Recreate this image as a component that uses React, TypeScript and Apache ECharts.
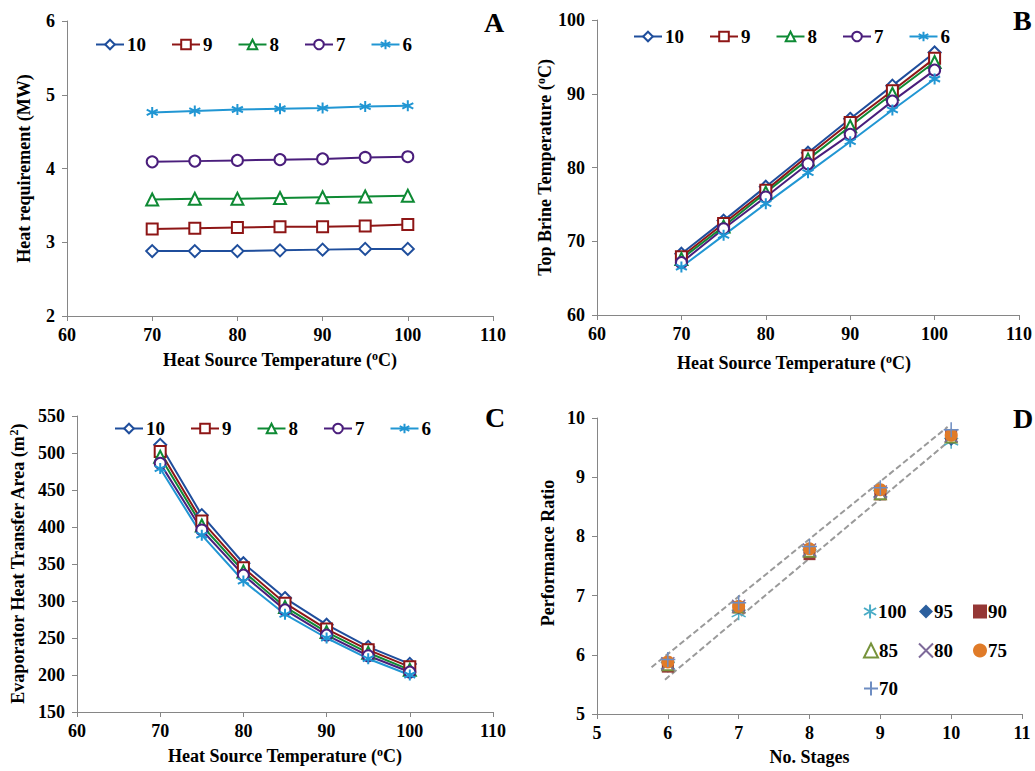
import React, { useEffect, useRef } from "react";
import * as echarts from "echarts";

const heatTemps = [70, 75, 80, 85, 90, 95, 100];
const stageNames = ["10", "9", "8", "7", "6"];

// Panel A: heat requirement (MW)
const heatReq10 = [2.88, 2.88, 2.88, 2.89, 2.9, 2.91, 2.91];
const heatReq9 = [3.18, 3.19, 3.2, 3.21, 3.21, 3.22, 3.24];
const heatReq8 = [3.58, 3.59, 3.59, 3.6, 3.61, 3.62, 3.63];
const heatReq7 = [4.09, 4.1, 4.11, 4.12, 4.13, 4.15, 4.16];
const heatReq6 = [4.76, 4.78, 4.8, 4.81, 4.82, 4.84, 4.85];

// Panel B: top brine temperature (°C)
const tbt10 = [68.3, 72.8, 77.4, 82.0, 86.6, 91.1, 95.6];
const tbt9 = [67.9, 72.4, 76.9, 81.6, 86.1, 90.4, 94.8];
const tbt8 = [67.6, 72.0, 76.6, 81.1, 85.6, 90.0, 94.3];
const tbt7 = [67.1, 71.7, 76.0, 80.5, 84.5, 89.0, 93.2];
const tbt6 = [66.5, 70.8, 75.1, 79.3, 83.5, 87.8, 92.0];

// Panel C: evaporator heat transfer area (m2)
const area10 = [511, 416, 351, 304, 268, 238, 215];
const area9 = [502, 408, 345, 297, 262, 234, 211];
const area8 = [495, 402, 340, 292, 258, 230, 207];
const area7 = [486, 396, 335, 288, 254, 226, 204];
const area6 = [479, 389, 327, 282, 250, 222, 200];

// Panel D: performance ratio vs number of stages
const stages = [6, 7, 8, 9, 10];
const prNames = ["100", "95", "90", "85", "80", "75", "70"];
const pr100 = [5.82, 6.7, 7.72, 8.72, 9.6];
const pr95 = [5.82, 6.79, 7.73, 8.73, 9.63];
const pr90 = [5.8, 6.8, 7.7, 8.71, 9.69];
const pr85 = [5.83, 6.81, 7.75, 8.72, 9.68];
const pr80 = [5.85, 6.82, 7.77, 8.75, 9.7];
const pr75 = [5.88, 6.82, 7.79, 8.79, 9.71];
const pr70 = [5.92, 6.88, 7.83, 8.82, 9.8];
const upperBoundX = [5.77, 9.95];
const upperBoundY = [5.79, 9.85];
const lowerBoundX = [5.96, 10.0];
const lowerBoundY = [5.58, 9.64];

const FONT = "Liberation Serif";
const AXIS_GREY = "#868686";

const ASTERISK = "path://M5,0 L5,10 M0.67,2.5 L9.33,7.5 M0.67,7.5 L9.33,2.5";
const XMARK = "path://M0,0 L10,10 M0,10 L10,0";
const PLUS = "path://M5,0 L5,10 M0,5 L10,5";

const lineStyles = [
  { color: "#1F4E9C", symbol: "emptyDiamond", size: 12 },
  { color: "#8E1616", symbol: "emptyRect", size: 11 },
  { color: "#0E8A34", symbol: "emptyTriangle", size: 12 },
  { color: "#4A1E7C", symbol: "emptyCircle", size: 11 },
  { color: "#2196D3", symbol: ASTERISK, size: 11 },
];

const scatterStyles = [
  { color: "#4BACC6", symbol: ASTERISK, size: 14, stroke: true, bw: 1.5 },
  { color: "#2B5F9E", symbol: "diamond", size: 12, stroke: false, bw: 0 },
  { color: "#953735", symbol: "rect", size: 12, stroke: false, bw: 0 },
  { color: "#77933C", symbol: "emptyTriangle", size: 11, stroke: true, bw: 1.2 },
  { color: "#7E6A9A", symbol: XMARK, size: 13, stroke: true, bw: 1.5 },
  { color: "#E07B28", symbol: "circle", size: 13, stroke: false, bw: 0 },
  { color: "#6E8DC2", symbol: PLUS, size: 15, stroke: true, bw: 1.5 },
];

const baseText = { fontFamily: FONT, fontWeight: "bold" as const, color: "#000" };

function axisName(main: string, sup: string, tail: string) {
  return `{b|${main}}{s|${sup}}{b|${tail}}`;
}

const nameRich = {
  b: { ...baseText, fontSize: 18 },
  s: { ...baseText, fontSize: 12, padding: [0, 0, 8, 0] },
};

function makeAxis(idx: number, min: number, max: number, interval: number, name: string, nameGap: number, vertical: boolean, extra: any = {}) {
  return {
    type: "value",
    gridIndex: idx,
    min,
    max,
    interval,
    name,
    nameLocation: "middle",
    nameGap,
    nameRotate: vertical ? 90 : 0,
    nameTextStyle: { ...baseText, fontSize: 18, rich: nameRich, ...(extra.nameTextStyle || {}) },
    axisLine: { show: true, lineStyle: { color: AXIS_GREY, width: 1 } },
    axisTick: { show: true, inside: false, length: 5, lineStyle: { color: AXIS_GREY } },
    axisLabel: { ...baseText, fontSize: 18, margin: vertical ? 12 : 10 },
    splitLine: { show: false },
  };
}

function lineSeries(name: string, styleIdx: number, xIdx: number, values: number[]) {
  const st = lineStyles[styleIdx];
  return {
    type: "line",
    name,
    xAxisIndex: xIdx,
    yAxisIndex: xIdx,
    data: heatTemps.map((t, i) => [t, values[i]]),
    symbol: st.symbol,
    symbolSize: st.size,
    showAllSymbol: true,
    lineStyle: { color: st.color, width: 2 },
    itemStyle: { color: st.color, borderColor: st.color, borderWidth: 2 },
    z: 3,
  };
}

function scatterSeries(name: string, styleIdx: number, values: number[]) {
  const st = scatterStyles[styleIdx];
  return {
    type: "scatter",
    name,
    xAxisIndex: 3,
    yAxisIndex: 3,
    data: stages.map((s, i) => [s, values[i]]),
    symbol: st.symbol,
    symbolSize: st.size,
    itemStyle: st.stroke
      ? { color: st.color, borderColor: st.color, borderWidth: st.bw, opacity: 1 }
      : { color: st.color, borderWidth: 0, opacity: 1 },
    z: 4 + styleIdx,
  };
}

function boundSeries(xs: number[], ys: number[]) {
  return {
    type: "line",
    xAxisIndex: 3,
    yAxisIndex: 3,
    data: xs.map((x, i) => [x, ys[i]]),
    symbol: "none",
    lineStyle: { color: "#9a9a9a", width: 2, type: [6, 3] },
    z: 2,
    silent: true,
  };
}

function lineLegend(left: number, top: number) {
  return {
    left,
    top,
    data: stageNames,
    itemWidth: 28,
    itemHeight: 12,
    itemGap: 25,
    padding: 0,
    selectedMode: false,
    textStyle: { ...baseText, fontSize: 19, padding: [0, 0, 0, -2] },
  };
}

function pointLegend(name: string, left: number, top: number) {
  return {
    left,
    top,
    data: [name],
    itemWidth: 14,
    itemHeight: 14,
    itemGap: 0,
    padding: 0,
    selectedMode: false,
    textStyle: { ...baseText, fontSize: 19, padding: [0, 0, 0, -4] },
  };
}

export default function App() {
  const ref = useRef<HTMLDivElement>(null);
  useEffect(() => {
    if (!ref.current) return;
    const chart = echarts.init(ref.current, undefined, { renderer: "svg" });
    const tempName = axisName("Heat Source Temperature (", "o", "C)");
    const option: any = {
      animation: false,
      backgroundColor: "#fff",
      grid: [
        { left: 67, top: 21, width: 426, height: 295 },
        { left: 597, top: 20, width: 425, height: 295 },
        { left: 77, top: 416, width: 416, height: 296 },
        { left: 597, top: 418, width: 425, height: 296 },
      ],
      xAxis: [
        makeAxis(0, 60, 110, 10, tempName, 34, false),
        makeAxis(1, 60, 110, 10, tempName, 38, false, { nameTextStyle: { padding: [0, 28, 0, 0] } }),
        makeAxis(2, 60, 110, 10, tempName, 34, false),
        makeAxis(3, 5, 11, 1, "{b|No. Stages}", 34, false),
      ],
      yAxis: [
        makeAxis(0, 2, 6, 1, "{b|Heat requirement (MW)}", 34, true),
        makeAxis(1, 60, 100, 10, axisName("Top Brine Temperature (", "o", "C)"), 40, true),
        makeAxis(2, 150, 550, 50, axisName("Evaporator Heat Transfer Area (m", "2", ")"), 49, true),
        makeAxis(3, 5, 10, 1, "{b|Performance Ratio}", 40, true, { nameTextStyle: { padding: [0, 0, 0, 26] } }),
      ],
      legend: [
        lineLegend(95, 35),
        lineLegend(633, 27),
        lineLegend(114, 419),
        pointLegend("100", 863, 602),
        pointLegend("95", 919, 602),
        pointLegend("90", 973, 602),
        pointLegend("85", 863, 641),
        pointLegend("80", 918, 641),
        pointLegend("75", 973, 641),
        pointLegend("70", 863, 679),
      ],
      graphic: [
        { type: "text", left: 484, top: 8, style: { text: "A", font: `bold 28px ${FONT}`, fill: "#000" } },
        { type: "text", left: 1013, top: 6, style: { text: "B", font: `bold 28px ${FONT}`, fill: "#000" } },
        { type: "text", left: 485, top: 403, style: { text: "C", font: `bold 28px ${FONT}`, fill: "#000" } },
        { type: "text", left: 1013, top: 404, style: { text: "D", font: `bold 28px ${FONT}`, fill: "#000" } },
      ],
      series: [
        lineSeries("10", 0, 0, heatReq10),
        lineSeries("9", 1, 0, heatReq9),
        lineSeries("8", 2, 0, heatReq8),
        lineSeries("7", 3, 0, heatReq7),
        lineSeries("6", 4, 0, heatReq6),
        lineSeries("10", 0, 1, tbt10),
        lineSeries("9", 1, 1, tbt9),
        lineSeries("8", 2, 1, tbt8),
        lineSeries("7", 3, 1, tbt7),
        lineSeries("6", 4, 1, tbt6),
        lineSeries("10", 0, 2, area10),
        lineSeries("9", 1, 2, area9),
        lineSeries("8", 2, 2, area8),
        lineSeries("7", 3, 2, area7),
        lineSeries("6", 4, 2, area6),
        boundSeries(upperBoundX, upperBoundY),
        boundSeries(lowerBoundX, lowerBoundY),
        scatterSeries(prNames[0], 0, pr100),
        scatterSeries(prNames[1], 1, pr95),
        scatterSeries(prNames[2], 2, pr90),
        scatterSeries(prNames[3], 3, pr85),
        scatterSeries(prNames[4], 4, pr80),
        scatterSeries(prNames[5], 5, pr75),
        scatterSeries(prNames[6], 6, pr70),
      ],
    };
    chart.setOption(option);
    return () => chart.dispose();
  }, []);
  return (
    <div
      ref={ref}
      style={{ position: "fixed", left: 0, top: 0, width: 1035, height: 771, background: "#fff" }}
    />
  );
}
